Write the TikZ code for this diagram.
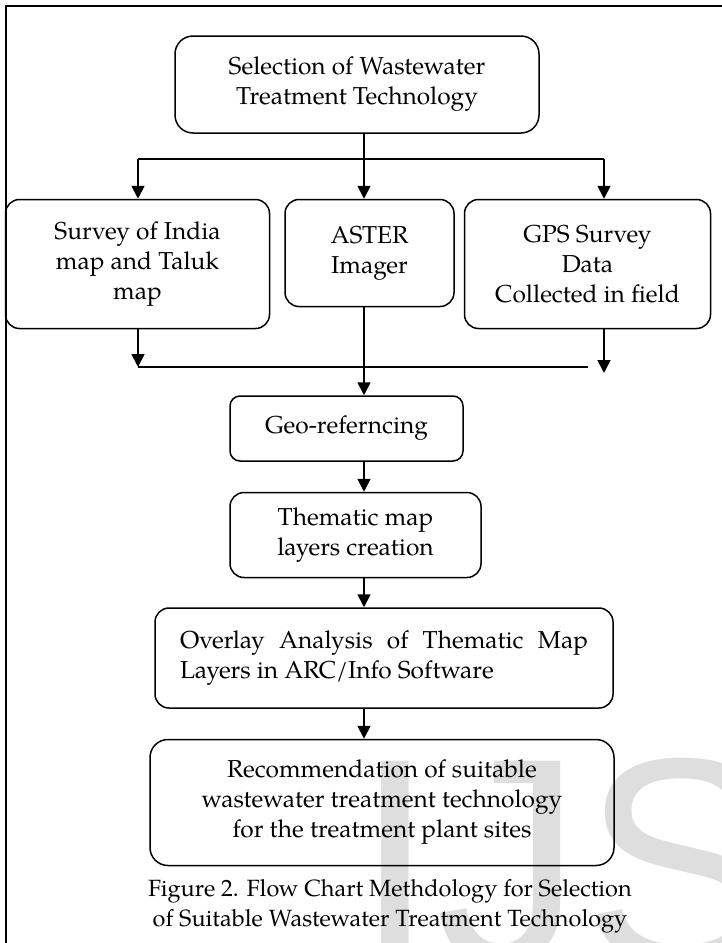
\documentclass[tikz,border=0pt]{standalone}
\usepackage{xcolor}
\usepackage{fontspec}
\setmainfont{texgyrepagella}[Extension=.otf, UprightFont=*-regular]
\newfontfamily\markfont{Liberation Sans}
\usepackage{tikz}
\usetikzlibrary{positioning,arrows.meta}

\begin{document}
\begin{tikzpicture}[
    x=1pt, y=1pt,
    >={Triangle[length=13pt,width=13pt]},
    flow/.style={line width=1.8pt},
    box/.style={rectangle, rounded corners=14pt, draw, line width=1.5pt, align=center, inner sep=0pt, font=\fontsize{24.5}{30}\selectfont}
]
\useasboundingbox (0,0) rectangle (722,-943);

% Watermark
\begin{scope}
\clip (0,0) rectangle (722,-943);
\node[anchor=base west, inner sep=0pt, text=black!13, font=\markfont\fontsize{294}{300}\selectfont] (mark) at (354,-963) {IJSER};
\end{scope}

% Frame
\draw[line width=2pt] (6,-943) -- (6,-6) -- (722,-6);

% Main workflow
\node[box, minimum width=364pt, minimum height=97pt, rounded corners=18pt] (main) at (357,-84.5) {Selection of Wastewater\\Treatment Technology};

% Data sources
\node[box, minimum width=169pt, minimum height=107pt, below=65pt of main, xshift=12.5pt] (aster) {ASTER\\Imager};
\node[box, minimum width=264pt, minimum height=129pt, left=14pt of aster.north west, anchor=north east] (survey) {Survey of India\\map and Taluk\\map};
\node[box, minimum width=246pt, minimum height=129pt, right=9pt of aster.north east, anchor=north west] (gps) {GPS Survey\\Data\\Collected in field};

% Processing steps
\node[box, minimum width=233pt, minimum height=65pt, rounded corners=10pt, below=88pt of aster, xshift=-23pt] (geo) {Geo-referncing};
\node[box, minimum width=251pt, minimum height=85pt, below=30pt of geo, xshift=9pt] (thematic) {Thematic map\\layers creation};
\node[box, minimum width=458pt, minimum height=100pt, text width=408pt, align=justify, below=29pt of thematic, xshift=28.5pt] (overlay) {Overlay Analysis of Thematic Map Layers in ARC/Info Software};
\node[box, minimum width=464pt, minimum height=126pt, rounded corners=18pt, below=30pt of overlay, xshift=-2pt] (rec) {Recommendation of suitable\\wastewater treatment technology\\for the treatment plant sites};

% Caption
\node[align=center, inner sep=0pt, font=\fontsize{23.5}{30}\selectfont, below=13pt of rec, xshift=8pt] (caption) {Figure 2. Flow Chart Methdology for Selection\\of Suitable Wastewater Treatment Technology};

% Branch points
\coordinate (split) at (364,-159);
\coordinate (lsplit) at (138,-159);
\coordinate (rsplit) at (604,-159);
\coordinate (lmerge) at (138,-367);
\coordinate (rmerge) at (588,-367);
\coordinate (gpsend) at (604,-373);

% Arrows
\draw[flow] (main.south -| split) -- (split);
\draw[flow] (lsplit) -- (rsplit);
\draw[flow, ->] (lsplit) -- (lsplit |- survey.north);
\draw[flow, ->] (split) -- (split |- aster.north);
\draw[flow, ->] (rsplit) -- (rsplit |- gps.north);
\draw[flow, ->] (lmerge |- survey.south) -- (lmerge);
\draw[flow] (lmerge) -- (rmerge);
\draw[flow, ->] (gpsend |- gps.south) -- (gpsend);
\draw[flow, ->] (split |- aster.south) -- (split |- geo.north);
\draw[flow, ->] (split |- geo.south) -- (split |- thematic.north);
\draw[flow, ->] (split |- thematic.south) -- (split |- overlay.north);
\draw[flow, ->] (split |- overlay.south) -- (split |- rec.north);

\end{tikzpicture}
\end{document}
